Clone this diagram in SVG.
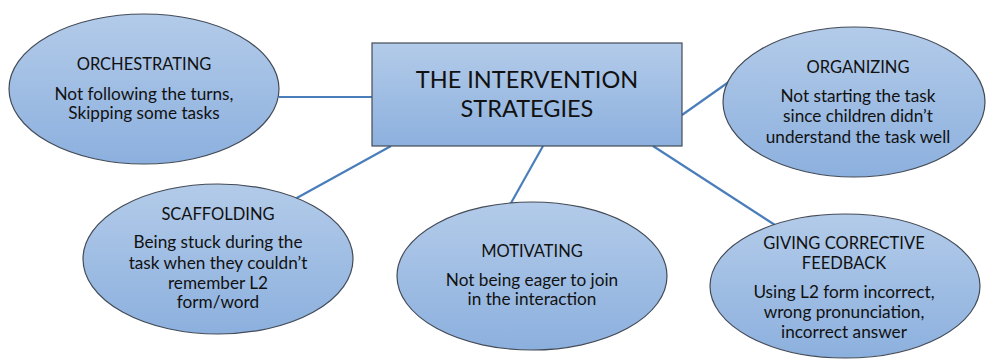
<svg xmlns="http://www.w3.org/2000/svg" width="986" height="359" viewBox="0 0 986 359">
  <defs>
    <linearGradient id="fillBlue" x1="0" y1="0" x2="0" y2="1">
      <stop offset="0" stop-color="#b3cbe9"/>
      <stop offset="1" stop-color="#8cb0de"/>
    </linearGradient>
    <style>
      .shape { fill: url(#fillBlue); stroke: #434b57; stroke-width: 1.2; }
      .link { stroke: #4a7ebb; stroke-width: 2.2; fill: none; }
      text { font-family: Lato, "Open Sans", "Liberation Sans", sans-serif; fill: #111; text-anchor: middle; }
      .head { font-size: 16.5px; }
      .body { font-size: 17.2px; }
      .title { font-size: 23.5px; }
    </style>
  </defs>
  <rect width="986" height="359" fill="#ffffff"/>

  <!-- connectors between the centre box and the strategy ellipses -->
  <g id="connectors">
    <line class="link" x1="279" y1="97" x2="372" y2="97"/>
    <line class="link" x1="682" y1="115" x2="733" y2="79"/>
    <line class="link" x1="391" y1="146" x2="295" y2="199"/>
    <line class="link" x1="543" y1="146" x2="511" y2="203"/>
    <line class="link" x1="653" y1="146" x2="775" y2="225"/>
  </g>

  <g id="centre">
    <rect class="shape" x="372" y="43" width="310" height="103"/>
    <text class="title" x="527" y="88">THE INTERVENTION</text>
    <text class="title" x="527" y="117">STRATEGIES</text>
  </g>

  <g id="orchestrating">
    <ellipse class="shape" cx="144" cy="89" rx="135" ry="75"/>
    <text class="head" x="144" y="70">ORCHESTRATING</text>
    <text class="body" x="144" y="100">Not following the turns,</text>
    <text class="body" x="144" y="119">Skipping some tasks</text>
  </g>

  <g id="organizing">
    <ellipse class="shape" cx="854" cy="102" rx="131" ry="75"/>
    <text class="head" x="858" y="73">ORGANIZING</text>
    <text class="body" x="858" y="102">Not starting the task</text>
    <text class="body" x="858" y="122">since children didn’t</text>
    <text class="body" x="858" y="143">understand the task well</text>
  </g>

  <g id="scaffolding">
    <ellipse class="shape" cx="218" cy="259" rx="135" ry="75"/>
    <text class="head" x="218" y="220">SCAFFOLDING</text>
    <text class="body" x="218" y="248">Being stuck during the</text>
    <text class="body" x="218" y="269">task when they couldn’t</text>
    <text class="body" x="218" y="289">remember L2</text>
    <text class="body" x="218" y="308">form/word</text>
  </g>

  <g id="motivating">
    <ellipse class="shape" cx="532" cy="276" rx="135" ry="74"/>
    <text class="head" x="532" y="257">MOTIVATING</text>
    <text class="body" x="532" y="286">Not being eager to join</text>
    <text class="body" x="532" y="305">in the interaction</text>
  </g>

  <g id="corrective-feedback">
    <ellipse class="shape" cx="845" cy="286" rx="135" ry="72"/>
    <text class="head" x="844" y="249">GIVING CORRECTIVE</text>
    <text class="head" x="844" y="269">FEEDBACK</text>
    <text class="body" x="844" y="298">Using L2 form incorrect,</text>
    <text class="body" x="844" y="318">wrong pronunciation,</text>
    <text class="body" x="844" y="338">incorrect answer</text>
  </g>
</svg>
